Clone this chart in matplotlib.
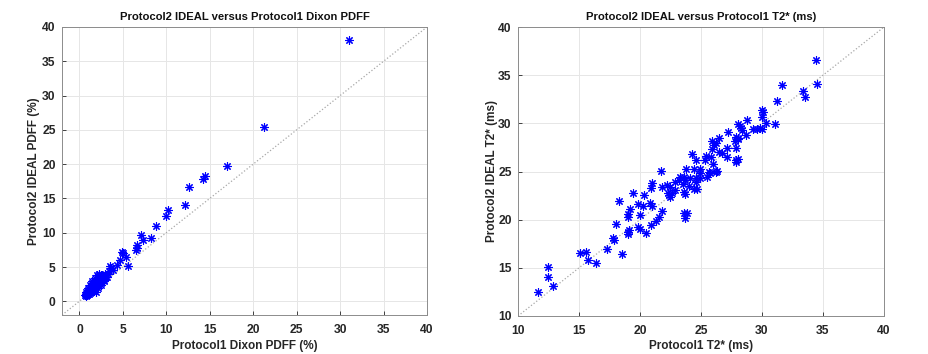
import matplotlib
matplotlib.use("Agg")
import matplotlib.pyplot as plt

plt.rcParams['font.family'] = ['Liberation Sans', 'DejaVu Sans']

# PDFF (%) : Protocol1 Dixon vs Protocol2 IDEAL
pdff_p1 = [31.0, 21.3, 17.0, 14.4, 14.2, 12.6, 12.1, 10.2, 10.0, 8.85,
           8.2, 7.1, 7.3, 6.6, 6.6, 6.5, 5.55, 4.9, 5.0, 5.4, 4.7, 4.3,
           3.5, 3.6, 3.4, 3.9, 3.3, 3.0, 2.9, 2.7, 2.6, 2.5, 2.4, 2.3,
           2.2, 2.1, 2.0, 2.0, 1.9, 1.8, 1.8, 1.7, 1.7, 1.6, 1.6, 1.5,
           1.5, 1.4, 1.4, 1.3, 1.3, 1.2, 1.2, 1.1, 1.1, 1.0, 1.0, 0.9,
           0.9, 0.8, 0.8, 0.7, 2.8, 2.5, 2.2, 1.9, 1.6, 1.3, 1.0, 3.1,
           2.3, 1.8, 1.5, 1.2, 0.95, 2.6, 1.5, 2.0, 2.3, 2.6, 1.2, 1.0,
           1.8, 2.8, 2.1, 3.2, 2.5, 1.7, 1.9, 1.4, 2.2, 0.8]
pdff_p2 = [38.1, 25.4, 19.8, 18.2, 17.9, 16.7, 14.1, 13.3, 12.5, 11.0,
           9.3, 9.7, 9.0, 8.2, 7.8, 7.5, 5.1, 7.2, 7.0, 6.5, 6.0, 5.3,
           5.2, 4.8, 4.4, 4.6, 4.0, 3.9, 4.0, 3.5, 3.2, 3.8, 2.9, 3.3,
           2.7, 3.0, 2.5, 2.9, 2.3, 2.6, 2.1, 2.4, 1.9, 2.2, 1.8, 2.0,
           1.6, 1.8, 1.5, 1.7, 1.3, 1.5, 1.2, 1.4, 1.1, 1.3, 1.0, 1.1,
           0.9, 1.0, 0.8, 0.9, 3.0, 2.6, 2.4, 2.2, 2.0, 1.7, 1.4, 3.6,
           3.9, 3.0, 2.5, 1.9, 1.6, 3.4, 3.0, 3.8, 4.0, 3.9, 2.4, 2.0,
           3.4, 3.1, 2.0, 3.5, 2.4, 1.5, 1.4, 2.7, 3.6, 1.4]

# T2* (ms) : Protocol1 vs Protocol2 IDEAL
t2_p1 = [34.43, 34.48, 33.36, 33.55, 31.67, 31.26, 31.09, 30.33, 30.0, 30.08,
         30.0, 29.8, 29.3, 29.6, 30.0, 28.8, 28.7, 28.0, 28.17, 28.3,
         28.4, 27.9, 28.0, 27.8, 28.0, 27.85, 27.9, 28.0, 27.85, 27.2,
         27.1, 27.1, 26.45, 26.5, 26.7, 26.25, 26.1, 25.9, 25.9, 25.8,
         26.0, 26.35, 26.25, 25.65, 25.7, 25.5, 25.4, 25.3, 24.9, 24.9,
         24.9, 24.6, 24.3, 24.4, 24.6, 24.6, 24.4, 24.7, 24.1, 24.0,
         23.8, 23.6, 23.7, 23.55, 23.6, 23.7, 23.6, 23.85, 23.7, 23.25,
         23.2, 22.9, 22.9, 22.5, 22.6, 22.4, 22.3, 22.5, 22.2, 21.75,
         21.8, 21.8, 21.55, 21.3, 21.0, 20.9, 20.85, 20.95, 20.9, 20.5,
         20.3, 20.25, 20.0, 20.0, 19.85, 19.8, 19.4, 19.15, 19.0, 19.0,
         19.1, 19.0, 19.05, 18.3, 18.5, 18.05, 17.8, 17.85, 17.3, 16.4,
         15.7, 15.6, 15.1, 12.46, 12.46, 12.87, 11.64]
t2_p2 = [36.54, 34.1, 33.4, 32.7, 34.0, 32.3, 29.9, 30.07, 31.35, 31.2,
         30.7, 29.5, 29.4, 29.4, 29.4, 30.3, 28.75, 29.96, 29.7, 29.5,
         29.3, 28.6, 28.4, 28.2, 28.5, 27.4, 26.2, 26.3, 26.0, 29.1,
         27.4, 26.5, 28.5, 27.0, 26.9, 28.0, 27.75, 27.3, 28.2, 26.5,
         25.8, 25.1, 24.9, 24.9, 24.8, 24.4, 26.6, 26.2, 25.3, 24.8,
         24.3, 26.2, 26.8, 25.3, 24.3, 23.95, 23.2, 23.2, 24.3, 23.5,
         25.3, 24.4, 24.1, 23.7, 22.9, 22.7, 20.7, 20.7, 20.2, 24.4,
         24.1, 23.9, 23.1, 23.4, 22.8, 22.6, 22.8, 22.4, 23.6, 25.1,
         23.4, 20.9, 20.3, 19.9, 23.85, 23.3, 21.75, 21.4, 19.4, 18.6,
         22.6, 21.4, 20.5, 19.0, 19.2, 21.6, 22.8, 21.1, 20.6, 20.3,
         18.9, 18.5, 18.7, 21.9, 16.4, 19.5, 18.1, 17.9, 17.0, 15.5,
         15.8, 16.65, 16.5, 15.1, 14.05, 13.15, 12.45]

W, H = 929, 354
fig = plt.figure(figsize=(W / 100, H / 100), dpi=100)
ax1 = fig.add_axes([62 / W, 1 - 315 / H, 365 / W, 288 / H])
ax2 = fig.add_axes([518 / W, 1 - 316 / H, 366 / W, 289 / H])

def style(ax, lim, ticks, title, xlabel, ylabel, ypad):
    ax.plot([lim[0], 40], [lim[0], 40], ':', color='#a8a8a8', lw=0.9, zorder=1)
    ax.set_xlim(lim)
    ax.set_ylim(lim)
    ax.set_xticks(ticks)
    ax.set_yticks(ticks)
    ax.grid(True, color='#e6e6e6', lw=0.7)
    ax.set_axisbelow(True)
    ax.tick_params(direction='in', length=3, width=0.6, colors='#262626',
                   labelsize=8.7, top=False, right=False)
    ax.tick_params(axis='x', pad=6.5)
    ax.tick_params(axis='y', pad=4.5)
    for lbl in ax.get_xticklabels() + ax.get_yticklabels():
        lbl.set_fontweight('bold')
    for s in ax.spines.values():
        s.set_color('#8c8c8c')
        s.set_linewidth(0.7)
    ax.set_title(title, fontsize=8.1, fontweight='bold', color='#111111', pad=5)
    ax.set_xlabel(xlabel, fontsize=8.5, fontweight='bold', color='#262626', labelpad=2.5)
    ax.set_ylabel(ylabel, fontsize=8.5, fontweight='bold', color='#262626', labelpad=ypad)

star = (8, 2, 0)
ax1.plot(pdff_p1, pdff_p2, ls='none', marker=star, color='#0000ff', ms=6, mew=0.8, zorder=3)
style(ax1, (-2, 40), range(0, 41, 5), 'Protocol2 IDEAL versus Protocol1 Dixon PDFF',
      'Protocol1 Dixon PDFF (%)', 'Protocol2 IDEAL PDFF (%)', 1.5)

ax2.plot(t2_p1, t2_p2, ls='none', marker=star, color='#0000ff', ms=6, mew=0.8, zorder=3)
style(ax2, (10, 40), range(10, 41, 5), 'Protocol2 IDEAL versus Protocol1 T2* (ms)',
      'Protocol1 T2* (ms)', 'Protocol2 IDEAL T2* (ms)', 0.5)

fig.savefig('out.png', dpi=100)
